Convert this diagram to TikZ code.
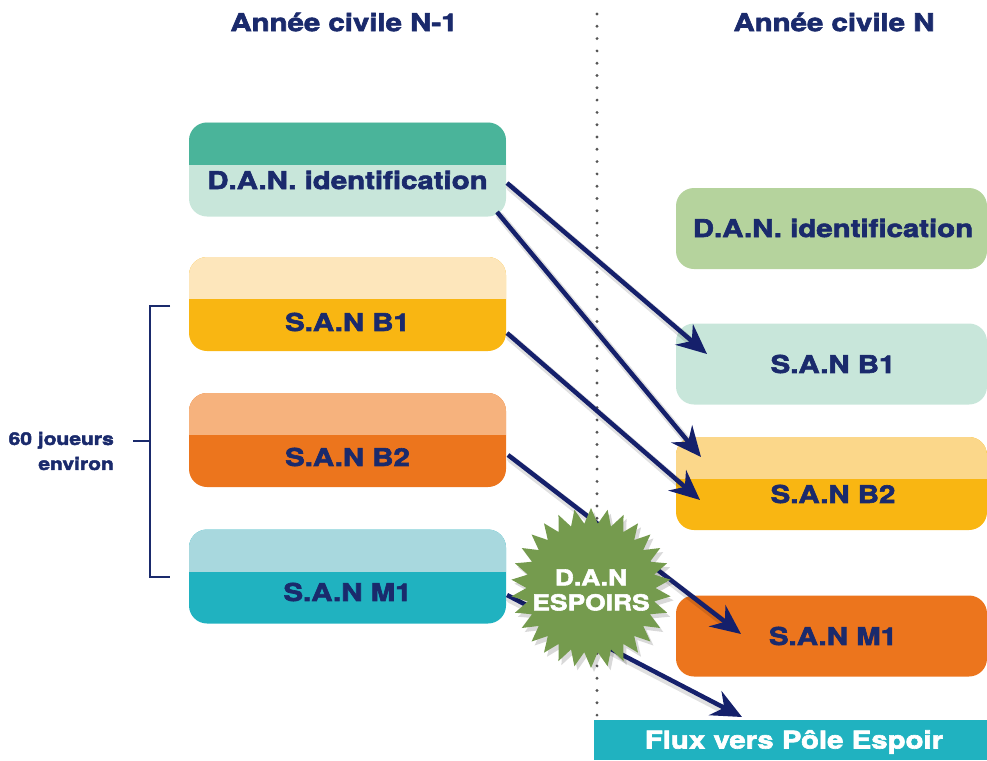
\documentclass[tikz,border=0pt]{standalone}
\usepackage{fontspec}
\setmainfont{TeX Gyre Heros}[FakeStretch=1.2, BoldFeatures={FakeBold=2.6}]
\usetikzlibrary{arrows.meta,shapes.geometric,calc}
\definecolor{navy}{HTML}{1A2A6C}
\definecolor{arrowc}{HTML}{15206B}
\definecolor{tealtop}{HTML}{4AB49A}
\definecolor{mint}{HTML}{C8E6DA}
\definecolor{ltyellow}{HTML}{FDE6BB}
\definecolor{yellowc}{HTML}{F9B612}
\definecolor{ltorange}{HTML}{F6B27D}
\definecolor{orangec}{HTML}{EC751D}
\definecolor{ltcyan}{HTML}{A8D8DE}
\definecolor{cyanc}{HTML}{20B2C0}
\definecolor{greenbox}{HTML}{B5D39D}
\definecolor{r3top}{HTML}{FBD78A}
\definecolor{stargreen}{HTML}{759B4E}
\definecolor{dotc}{HTML}{555555}
\tikzset{
  box/.style={rectangle, rounded corners=18pt, inner sep=0pt},
  leftbox/.style={box, minimum width=317pt, minimum height=94pt},
  rightbox/.style={box, minimum width=311pt, minimum height=81pt},
  band/.style={path picture={\fill[#1, sharp corners] ([yshift=1pt,xshift=-1pt]path picture bounding box.north west) rectangle ([yshift=-42pt,xshift=1pt]path picture bounding box.north east);}},
  boxtext/.style={font=\bfseries\fontsize{24.5}{27}\selectfont, text=navy, inner sep=0pt},
  head/.style={font=\bfseries\fontsize{24.5}{27}\selectfont, text=navy, inner sep=0pt},
  flow/.style={draw=arrowc, line width=4.5pt, -{Stealth[length=30pt, width=27pt, inset=10pt]}},
  flowshadow/.style={draw=black, opacity=0.12, line width=8pt, line cap=round, shorten >=22pt},
}
\begin{document}
\begin{tikzpicture}[x=1pt,y=-1pt]
\useasboundingbox (0,0) rectangle (987,760);
% headers
\node[head] (h1) at (344,22) {Année civile N-1};
\node[head] (h2) at (834,22) {Année civile N};
% dotted separator
\coordinate (dtop) at (597,14);
\coordinate (dbot) at (597,716);
\draw[dotc, line width=3.2pt, line cap=round, dash pattern=on 0pt off 12.3pt] (dtop) -- (dbot);
% left boxes
\node[leftbox, fill=mint, band=tealtop] (L1) at (347.5,169.5) {};
\node[boxtext] (L1t) at (347.5,180) {D.A.N. identification};
\node[leftbox, fill=yellowc, band=ltyellow] (L2) at (347.5,304) {};
\node[boxtext] (L2t) at (347.5,322) {S.A.N B1};
\node[leftbox, fill=orangec, band=ltorange] (L3) at (347.5,440) {};
\node[boxtext] (L3t) at (347.5,457) {S.A.N B2};
\node[leftbox, fill=cyanc, band=ltcyan] (L4) at (347.5,576.5) {};
\node[boxtext] (L4t) at (347.5,592) {S.A.N M1};
% right boxes
\node[rightbox, fill=greenbox] (R1) at (831.5,228.5) {};
\node[boxtext] (R1t) at (833,228) {D.A.N. identification};
\node[rightbox, fill=mint] (R2) at (831.5,364) {};
\node[boxtext] (R2t) at (833,364) {S.A.N B1};
\node[rightbox, fill=yellowc, band=r3top, minimum height=93pt] (R3) at (831.5,483.5) {};
\node[boxtext] (R3t) at (833,494) {S.A.N B2};
\node[rightbox, fill=orangec] (R4) at (831.5,636) {};
\node[boxtext] (R4t) at (833,636) {S.A.N M1};
% flux box
\node[rectangle, fill=cyanc, minimum width=393pt, minimum height=40pt, inner sep=0pt] (F) at (790.5,740) {};
\node[font=\bfseries\fontsize{24.5}{27}\selectfont, text=white, inner sep=0pt] (Ft) at (794,742) {Flux vers Pôle Espoir};
% bracket
\coordinate (bt) at (170,306);
\coordinate (bb) at (170,577);
\coordinate (bmid) at (150,441);
\coordinate (bm) at (133,441);
\draw[navy, line width=2pt] (bt) -- (150,306) -- (150,577) -- (bb);
\draw[navy, line width=2pt] (bmid) -- (bm);
\node[font=\bfseries\fontsize{17.5}{25}\selectfont, text=navy, align=right, anchor=east, inner sep=0pt] (joueurs) at (114,451) {60 joueurs\\environ};
% arrows
\coordinate (s1) at (507,183); \coordinate (e1) at (707,354);
\coordinate (s2) at (497,212); \coordinate (e2) at (701,457);
\coordinate (s3) at (507,333); \coordinate (e3) at (700,500);
\coordinate (s4) at (508,455); \coordinate (e4) at (741,634);
\coordinate (s5) at (507,595); \coordinate (e5) at (742,717);
\foreach \s/\e in {s1/e1,s2/e2,s3/e3,s4/e4,s5/e5}{
  \draw[flowshadow] ([shift={(3,4)}]\s) -- ([shift={(3,4)}]\e);
}
\draw[flow] (s1) -- (e1);
\draw[flow] (s2) -- (e2);
\draw[flow] (s3) -- (e3);
\draw[flow] (s4) -- (e4);
\draw[flow] (s5) -- (e5);
% star
\node[star, star points=30, star point ratio=1.24, minimum size=160pt, inner sep=0pt, fill=black, opacity=0.15] (starsh) at (594,592) {};
\node[star, star points=30, star point ratio=1.24, minimum size=160pt, inner sep=0pt, fill=stargreen] (star) at (591,588) {};
\node[font=\bfseries\fontsize{22}{25}\selectfont, text=white, align=center, inner sep=0pt] (startxt) at (591,590) {D.A.N\\ESPOIRS};
\end{tikzpicture}
\end{document}
